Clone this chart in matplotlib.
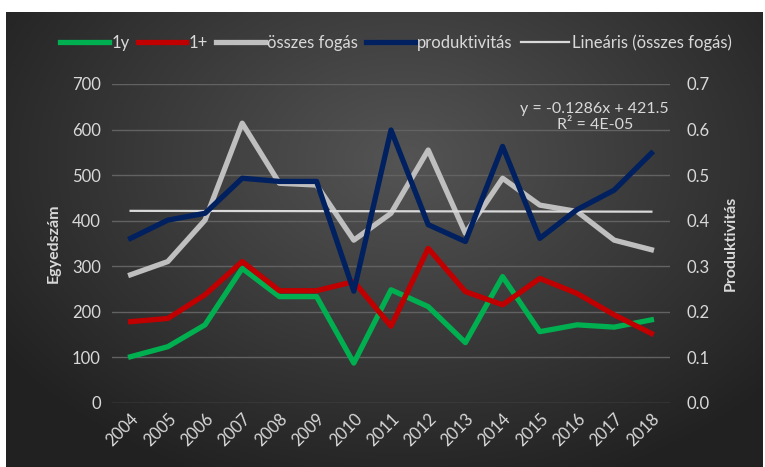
import numpy as np
import matplotlib
matplotlib.use("Agg")
import matplotlib.pyplot as plt
from matplotlib.patches import Rectangle

plt.rcParams['font.family'] = ['Lato', 'DejaVu Sans']

years = [str(y) for y in range(2004, 2019)]
egy_1y = [101, 123, 171, 295, 233, 233, 87, 248, 211, 132, 277, 156, 171, 166, 182]
egy_1plus = [178, 185, 237, 310, 246, 246, 266, 168, 339, 244, 215, 273, 240, 193, 152]
osszes = [281, 310, 401, 614, 482, 478, 357, 416, 555, 372, 493, 434, 420, 357, 336]
produktivitas = [0.361, 0.401, 0.416, 0.493, 0.486, 0.486, 0.245, 0.599, 0.391, 0.354,
                 0.563, 0.361, 0.424, 0.467, 0.548]
trend_slope = -0.1286
trend_intercept = 421.5

txt = '#d9d9d9'
W, H = 765, 467
fig = plt.figure(figsize=(W / 100, H / 100), dpi=100)
fig.patch.set_facecolor('white')

# dark panel behind everything, then a radial gradient on top of it
fig.patches.append(Rectangle((6 / W, 0), (763 - 6) / W, (H - 12) / H, transform=fig.transFigure,
                             facecolor='#262626', edgecolor='none', zorder=-20))
bg = fig.add_axes([6 / W, 0, (763 - 6) / W, (H - 12) / H])
gx, gy = np.meshgrid(np.linspace(-1, 1, 400), np.linspace(-1, 1, 240))
r = np.sqrt(((gx - 0.05) / 1.1) ** 2 + ((gy - 0.35) / 1.3) ** 2)
shade = np.clip(0.33 - 0.17 * r, 0.13, 0.33)
bg.imshow(np.dstack([shade] * 3), aspect='auto', extent=[0, 1, 0, 1], origin='lower',
          interpolation='bilinear')
bg.set_xlim(0, 1)
bg.set_ylim(0, 1)
bg.set_axis_off()

ax = fig.add_axes([112 / W, (H - 402.7) / H, (670 - 112) / W, (402.7 - 84) / H])
ax.set_facecolor('none')
ax2 = ax.twinx()

x = np.arange(len(years))
ax.plot(x, egy_1y, color='#00b050', lw=3.8, label='1y', solid_joinstyle='round', zorder=3)
ax.plot(x, egy_1plus, color='#c00000', lw=3.8, label='1+', solid_joinstyle='round', zorder=3)
ax.plot(x, osszes, color='#bfbfbf', lw=3.8, label='összes fogás', solid_joinstyle='round', zorder=3)
ax2.plot(x, produktivitas, color='#002060', lw=3.8, label='produktivitás', solid_joinstyle='round')
trend = trend_slope * (x + 1) + trend_intercept
ax.plot(x, trend, color='#d9d9d9', lw=1.6, label='Lineáris (összes fogás)', zorder=4)

ax.set_xlim(-0.5, len(years) - 0.5)
ax.set_ylim(0, 700)
ax2.set_ylim(0, 0.7)
ax.set_yticks(range(0, 701, 100))
ax2.set_yticks(np.arange(0, 0.71, 0.1))
ax2.set_yticklabels([f'{v:.1f}' for v in np.arange(0, 0.71, 0.1)])
ax.set_xticks(x)
ax.set_xticklabels(years, rotation=45, ha='right', va='top', rotation_mode='anchor')
ax.grid(axis='y', color='#626262', lw=1)
ax.set_axisbelow(True)

for a in (ax, ax2):
    for s in a.spines.values():
        s.set_visible(False)
    a.tick_params(length=0, colors=txt, labelsize=12)
ax.tick_params(axis='y', pad=8)
ax2.tick_params(axis='y', pad=12)
ax.tick_params(axis='x', pad=6)

ax.set_ylabel('Egyedszám', color=txt, fontsize=11.5, fontweight='bold', labelpad=8)
ax2.set_ylabel('Produktivitás', color=txt, fontsize=11.5, fontweight='bold', labelpad=10)

ax.text(0.865, 0.945, 'y = -0.1286x + 421.5\nR² = 4E-05', transform=ax.transAxes,
        ha='center', va='top', color=txt, fontsize=11.5, linespacing=1.2)

h1, l1 = ax.get_legend_handles_labels()
h2, l2 = ax2.get_legend_handles_labels()
handles = h1[:3] + h2 + h1[3:]
labels = l1[:3] + l2 + l1[3:]
leg = fig.legend(handles, labels, loc='center', bbox_to_anchor=(396 / W, 1 - 43 / H), ncol=5,
                 frameon=False, fontsize=12, handlelength=2.9, handletextpad=0.15,
                 columnspacing=0.5)
for t in leg.get_texts():
    t.set_color(txt)

fig.savefig('out.png', dpi=100, facecolor='white')
